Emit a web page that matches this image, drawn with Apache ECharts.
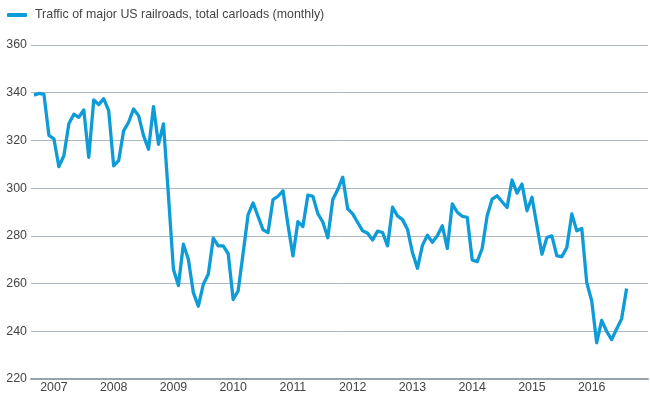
<!DOCTYPE html>
<html>
<head>
<meta charset="utf-8">
<script src="https://cdn.jsdelivr.net/npm/echarts@6/dist/echarts.min.js"></script>
<style>
html,body{margin:0;padding:0;background:#fff;}
#chart{width:650px;height:400px;}
</style>
</head>
<body>
<div id="chart"></div>
<script>
// Series: monthly total carloads, first point = September 2006
const seriesName = 'Traffic of major US railroads, total carloads (monthly)';
const startYear = 2006;
const startMonth = 9; // September
const carloads = [
  339, 339.7, 339.3, 322.1,
  320.7, 309, 313.6, 327, 331, 329.7, 332.8, 312.9, 337, 335, 337.5, 332.5,
  309.3, 311.5, 324, 327.6, 333.2, 330.4, 322, 316.3, 334.2, 318.4, 326.9, 297,
  266, 259.2, 276.5, 270.2, 256.2, 250.5, 259.7, 263.9, 279, 275.8, 275.8, 272.5,
  253.3, 257, 272.8, 288.9, 293.8, 288.1, 282.5, 281.4, 295.2, 296.6, 298.9, 284.7,
  271.6, 286, 283.9, 297.1, 296.6, 289.3, 285.8, 279.2, 295.2, 299.4, 304.6, 291.3,
  289.2, 285.6, 282.1, 281.1, 278.3, 282, 281.4, 275.8, 292, 288.4, 286.8, 282.8,
  273, 266.4, 276, 280.3, 277.3, 280, 284.2, 274.7, 293.4, 289.9, 288.2, 287.8,
  269.9, 269.2, 274.7, 288.4, 295.4, 296.8, 294.3, 291.9, 303.4, 297.9, 301.7, 290.5,
  296.2, 284.2, 272.3, 279.3, 280, 271.6, 271.3, 275.1, 289.2, 282.1, 283.1, 260.4,
  252.7, 235.2, 244.6, 240, 236.5, 241, 245.2, 257.9
];
const yearLabels = ['2007','2008','2009','2010','2011','2012','2013','2014','2015','2016'];
const yTicks = [220, 240, 260, 280, 300, 320, 340, 360];

// x value = months elapsed since the first month
const points = carloads.map((v, i) => [i, v]);
// January of each labelled year, as month index
const yearPos = yearLabels.map(y => (Number(y) - startYear) * 12 + (1 - startMonth));
const labelByPos = {};
yearPos.forEach((p, k) => { labelByPos[p] = yearLabels[k]; });

const chart = echarts.init(document.getElementById('chart'), null, {renderer: 'canvas'});
const font = '"Liberation Sans", Arial, Helvetica, sans-serif';
chart.setOption({
  animation: false,
  backgroundColor: '#ffffff',
  legend: {
    show: true,
    left: 7,
    top: 9,
    padding: 0,
    itemWidth: 20,
    itemHeight: 4,
    icon: 'roundRect',
    textStyle: {fontFamily: font, fontSize: 12.4, color: '#444', padding: [0, 0, 0, 3]},
    data: [seriesName]
  },
  grid: {left: 31, right: 2, top: 45, bottom: 21, containLabel: false},
  xAxis: {
    type: 'value',
    min: -0.6,
    max: 123.3,
    splitLine: {show: false},
    axisTick: {show: false},
    axisLine: {show: true, lineStyle: {color: '#98a3ac', width: 2}},
    axisLabel: {
      customValues: yearPos,
      formatter: v => labelByPos[v] || '',
      fontFamily: font, fontSize: 12.4, color: '#444', margin: 3
    }
  },
  yAxis: {
    type: 'value',
    min: yTicks[0],
    max: yTicks[yTicks.length - 1],
    interval: 20,
    axisLine: {show: false},
    axisTick: {show: false},
    splitLine: {lineStyle: {color: '#aeb8c0', width: 1}},
    axisLabel: {fontFamily: font, fontSize: 12.4, color: '#444', margin: 4}
  },
  series: [{
    name: seriesName,
    type: 'line',
    data: points,
    showSymbol: false,
    symbol: 'none',
    color: '#0e9cd8',
    lineStyle: {color: '#0e9cd8', width: 3.3, join: 'round'}
  }]
});
</script>
</body>
</html>
